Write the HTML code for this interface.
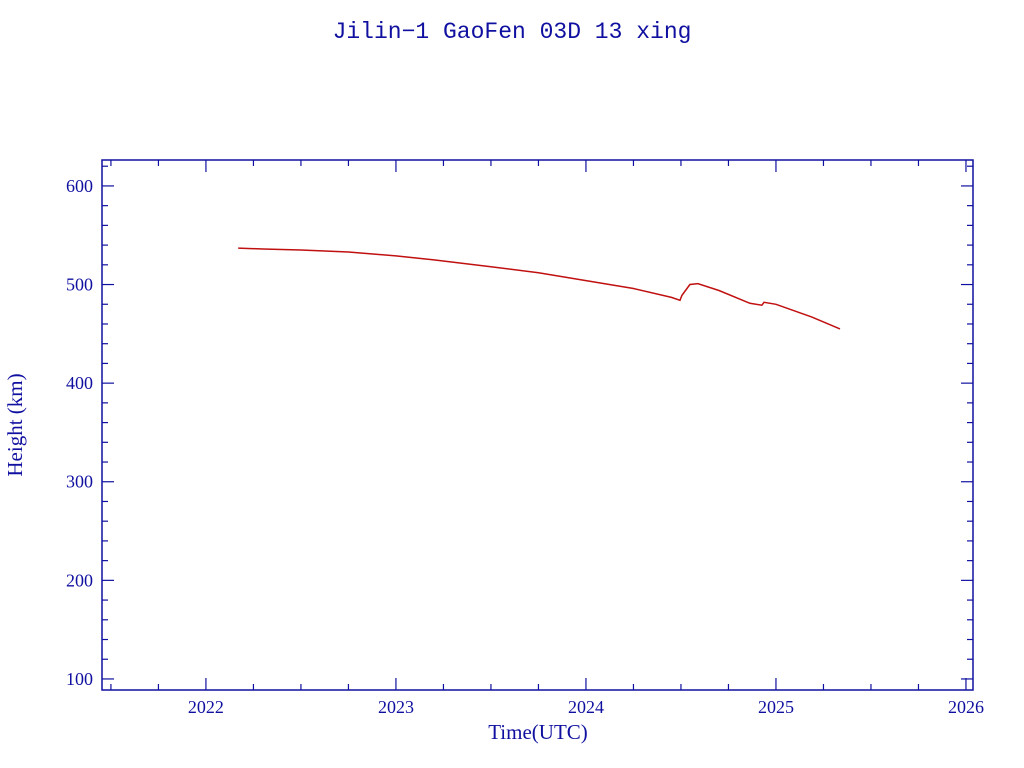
<!DOCTYPE html>
<html><head><meta charset="utf-8"><style>
html,body{margin:0;padding:0;background:#fff;}
svg{display:block;}
text{font-family:"Liberation Serif",serif;fill:#1010a0;}
</style></head><body>
<svg id="chart" width="1024" height="768" viewBox="0 0 1024 768">
<text x="512" y="38" text-anchor="middle" font-size="23" style="font-family:'Liberation Mono',monospace">Jilin−1 GaoFen 03D 13 xing</text>
<rect x="102" y="160" width="871" height="530" fill="none" stroke="#1010a0" stroke-width="1.5"/>
<g id="axes"></g>
<text x="538" y="739" text-anchor="middle" font-size="21">Time(UTC)</text>
<text x="22" y="425" text-anchor="middle" font-size="21" transform="rotate(-90 22 425)">Height (km)</text>
<g id="series"></g>
</svg>
<script>
const years=[2022.17,2022.3,2022.5,2022.75,2023.0,2023.2,2023.5,2023.75,2024.0,2024.25,2024.45,2024.495,2024.505,2024.547,2024.589,2024.7,2024.863,2024.926,2024.937,2025.0,2025.189,2025.337];
const heights=[537,536,535,533,529,525,518,512,504,496,487,484,489,500,501,494,481,479,482,480,467,455];
const xTicks=[2022,2023,2024,2025,2026];
const yTicks=[100,200,300,400,500,600];
const X0=102,X1=973,Y0=690,Y1=160;
const xMin=2021.453,xMax=2026.037,yMin=88.8,yMax=626.3;
function sx(v){return X0+(v-xMin)/(xMax-xMin)*(X1-X0);}
function sy(v){return Y0-(v-yMin)/(yMax-yMin)*(Y0-Y1);}
const NS='http://www.w3.org/2000/svg';
const axes=document.getElementById('axes');
function line(x1,y1,x2,y2,name){const l=document.createElementNS(NS,'line');l.setAttribute('x1',x1);l.setAttribute('y1',y1);l.setAttribute('x2',x2);l.setAttribute('y2',y2);l.setAttribute('stroke','#1010a0');l.setAttribute('stroke-width','1.2');


axes.appendChild(l);}
function label(x,y,t,anchor,name){const e=document.createElementNS(NS,'text');e.setAttribute('x',x);e.setAttribute('y',y);e.setAttribute('text-anchor',anchor);e.setAttribute('font-size','18');e.textContent=t;


axes.appendChild(e);}
for(let q=Math.ceil(xMin*4);q<=Math.floor(xMax*4);q++){const v=q/4;const x=sx(v);const major=(q%4===0);const len=major?12:6;
line(x,Y0,x,Y0-len,'x-tick');line(x,Y1,x,Y1+len,'x-tick-top');}
xTicks.forEach(v=>label(sx(v),713,String(v),'middle','x-tick-label'));
for(let v=100;v<=620;v+=20){const y=sy(v);const major=(v%100===0);const len=major?12:6;
line(X0,y,X0+len,y,'y-tick');line(X1,y,X1-len,y,'y-tick-right');}
yTicks.forEach(v=>label(93,sy(v)+6,String(v),'end','y-tick-label'));
const s=document.getElementById('series');
const p=document.createElementNS(NS,'polyline');
p.setAttribute('points',years.map((y,i)=>sx(y).toFixed(1)+','+sy(heights[i]).toFixed(1)).join(' '));
p.setAttribute('fill','none');p.setAttribute('stroke','#c01010');p.setAttribute('stroke-width','1.5');


s.appendChild(p);
</script>
</body></html>
